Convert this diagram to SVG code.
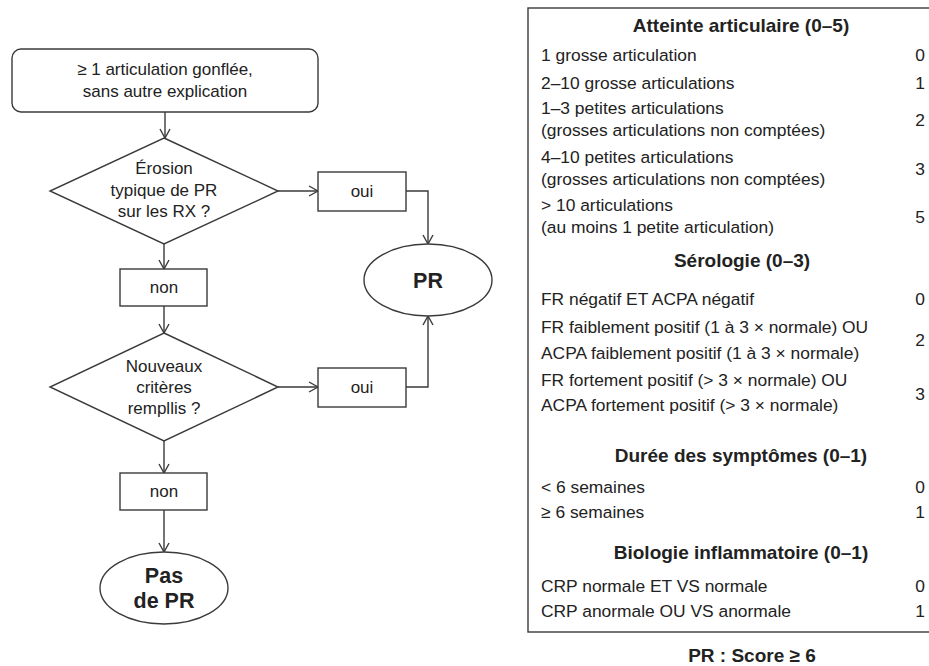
<svg xmlns="http://www.w3.org/2000/svg" width="929" height="666" viewBox="0 0 929 666">
<style>
.s{fill:none;stroke:#3a3a3a;stroke-width:1.4}
.nd{fill:#fff;stroke:#3a3a3a;stroke-width:1.4}
text{font-family:"Liberation Sans",Arial,sans-serif;fill:#222}
.t{font-size:17px}
.r{font-size:17.4px}
.c{text-anchor:middle}
.h{font-size:19px;font-weight:bold;text-anchor:middle}
.big{font-size:21.5px;font-weight:bold;text-anchor:middle}
.n{font-size:17.4px;text-anchor:middle}
</style>
<defs>
<marker id="ar" viewBox="0 0 10 12" refX="10" refY="6" markerWidth="10" markerHeight="12" markerUnits="userSpaceOnUse" orient="auto">
<path d="M1,1 L10,6 L1,11" fill="none" stroke="#3a3a3a" stroke-width="1.4"/>
</marker>
</defs>
<rect width="929" height="666" fill="#fff"/>

<g id="connectors">
<path class="s" d="M165,112 V138" marker-end="url(#ar)"/>
<path class="s" d="M278,191 H318" marker-end="url(#ar)"/>
<path class="s" d="M406,191 H428 V244" marker-end="url(#ar)"/>
<path class="s" d="M164,244 V269" marker-end="url(#ar)"/>
<path class="s" d="M164,306 V333" marker-end="url(#ar)"/>
<path class="s" d="M278,387 H318" marker-end="url(#ar)"/>
<path class="s" d="M406,387 H428 V316" marker-end="url(#ar)"/>
<path class="s" d="M164,441 V473" marker-end="url(#ar)"/>
<path class="s" d="M164,510 V552" marker-end="url(#ar)"/>
</g>

<g id="start">
<rect class="nd" x="12" y="49" width="306" height="63" rx="9"/>
<text class="t c" x="165" y="75">≥ 1 articulation gonflée,</text>
<text class="t c" x="165" y="97">sans autre explication</text>
</g>

<g id="q1">
<polygon class="nd" points="164,138 278,191 164,244 50,191"/>
<text class="t c" x="164" y="174">Érosion</text>
<text class="t c" x="164" y="196">typique de PR</text>
<text class="t c" x="164" y="217">sur les RX ?</text>
</g>

<g id="oui1">
<rect class="nd" x="318" y="172" width="88" height="39"/>
<text class="t c" x="362" y="197">oui</text>
</g>

<g id="pr">
<ellipse class="nd" cx="428" cy="280" rx="64" ry="36"/>
<text class="big" x="428" y="288">PR</text>
</g>

<g id="non1">
<rect class="nd" x="120" y="269" width="87" height="37"/>
<text class="t c" x="164" y="293">non</text>
</g>

<g id="q2">
<polygon class="nd" points="164,333 278,387 164,441 50,387"/>
<text class="t c" x="164" y="372">Nouveaux</text>
<text class="t c" x="164" y="393">critères</text>
<text class="t c" x="164" y="414">rempllis ?</text>
</g>

<g id="oui2">
<rect class="nd" x="318" y="368" width="88" height="39"/>
<text class="t c" x="362" y="393">oui</text>
</g>

<g id="non2">
<rect class="nd" x="120" y="473" width="87" height="37"/>
<text class="t c" x="164" y="497">non</text>
</g>

<g id="paspr">
<ellipse class="nd" cx="164" cy="588" rx="64" ry="36"/>
<text class="big" x="164" y="583">Pas</text>
<text class="big" x="164" y="608">de PR</text>
</g>

<g id="table">
<rect class="nd" x="528" y="8" width="420" height="624"/>
<text class="h" x="741" y="32">Atteinte articulaire (0–5)</text>
<text class="r" x="541" y="61">1 grosse articulation</text><text class="n" x="920" y="61">0</text>
<text class="r" x="541" y="89">2–10 grosse articulations</text><text class="n" x="920" y="89">1</text>
<text class="r" x="541" y="114">1–3 petites articulations</text>
<text class="r" x="541" y="136">(grosses articulations non comptées)</text><text class="n" x="920" y="126">2</text>
<text class="r" x="541" y="163">4–10 petites articulations</text>
<text class="r" x="541" y="185">(grosses articulations non comptées)</text><text class="n" x="920" y="175">3</text>
<text class="r" x="541" y="211">&gt; 10 articulations</text>
<text class="r" x="541" y="233">(au moins 1 petite articulation)</text><text class="n" x="920" y="223">5</text>
<text class="h" x="742" y="267">Sérologie (0–3)</text>
<text class="r" x="541" y="305">FR négatif ET ACPA négatif</text><text class="n" x="920" y="305">0</text>
<text class="r" x="541" y="333">FR faiblement positif (1 à 3 × normale) OU</text>
<text class="r" x="541" y="359">ACPA faiblement positif (1 à 3 × normale)</text><text class="n" x="920" y="346">2</text>
<text class="r" x="541" y="386">FR fortement positif (&gt; 3 × normale) OU</text>
<text class="r" x="541" y="411">ACPA fortement positif (&gt; 3 × normale)</text><text class="n" x="920" y="400">3</text>
<text class="h" x="741" y="462">Durée des symptômes (0–1)</text>
<text class="r" x="541" y="493">&lt; 6 semaines</text><text class="n" x="920" y="493">0</text>
<text class="r" x="541" y="518">≥ 6 semaines</text><text class="n" x="920" y="518">1</text>
<text class="h" x="741" y="559">Biologie inflammatoire (0–1)</text>
<text class="r" x="541" y="592">CRP normale ET VS normale</text><text class="n" x="920" y="592">0</text>
<text class="r" x="541" y="617">CRP anormale OU VS anormale</text><text class="n" x="920" y="617">1</text>
</g>

<g id="footer">
<text class="h" x="752" y="662">PR : Score ≥ 6</text>
</g>
</svg>
